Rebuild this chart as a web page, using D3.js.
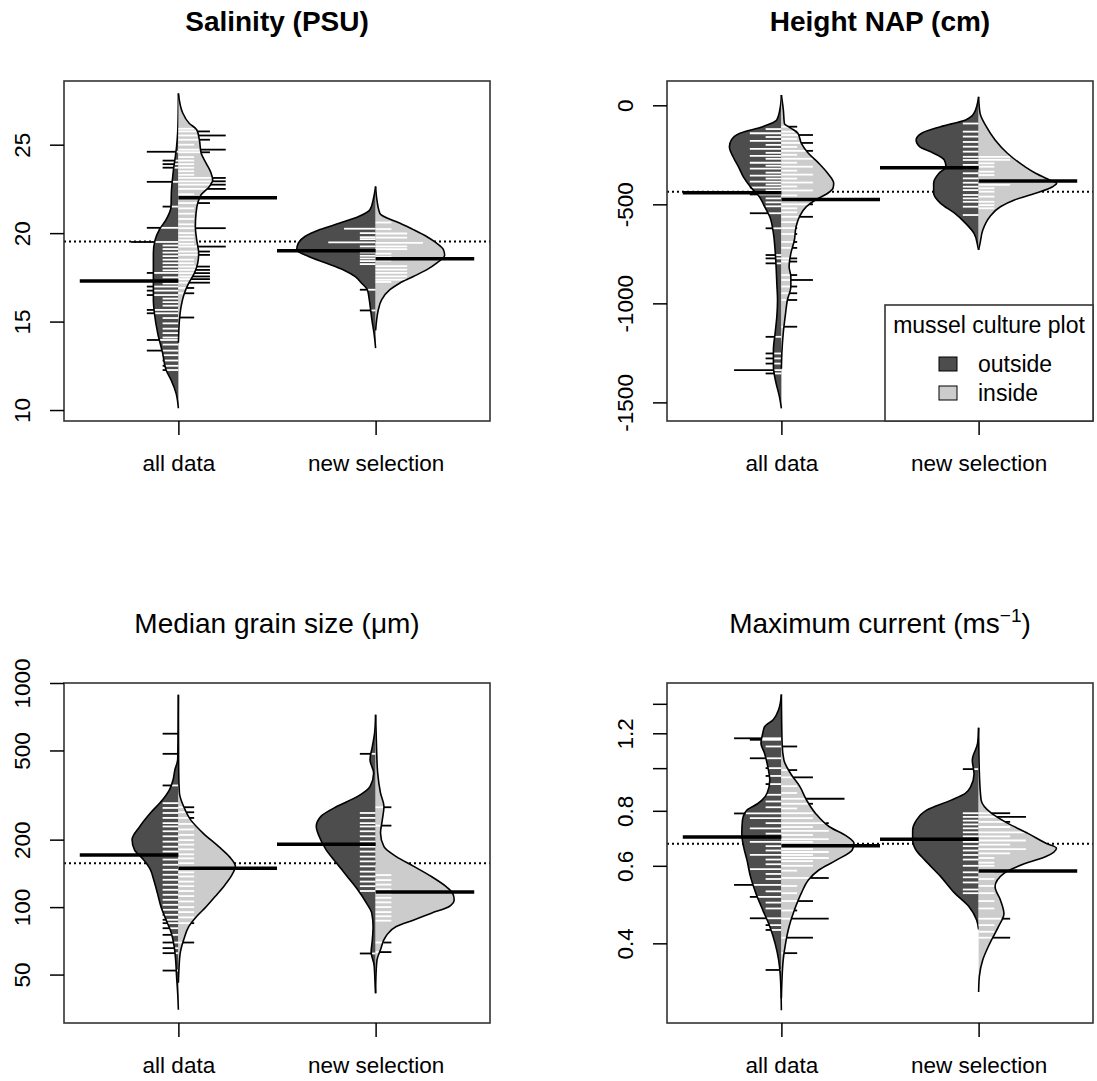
<!DOCTYPE html>
<html>
<head>
<meta charset="utf-8">
<script src="https://cdn.jsdelivr.net/npm/d3@7"></script>
<style>
  body { margin: 0; background: #fff; }
  text { font-family: "Liberation Sans", Arial, sans-serif; fill: #000; }
</style>
</head>
<body>
<svg id="chart" width="1097" height="1081"></svg>
<script>
// ---------- data ----------
const groups = ["all data", "new selection"];
const sideNames = ["outside", "inside"];
const legendTitle = "mussel culture plot";

// density profiles: [value, relative half-width]  (outside = left, inside = right)
// Salinity
const salTicks = [10, 15, 20, 25];
const salOverall = 19.52;
const salMeans = [[17.3, 22.0], [19.0, 18.55]];
const salAllOutDens = [[27.9,0],[26.0,0.006],[24.9,0.023],[23.4,0.067],[22.3,0.089],[21.5,0.093],[20.76,0.156],[20.2,0.241],[19.62,0.295],[18.86,0.317],[17.5,0.317],[16.2,0.317],[15.47,0.304],[14.34,0.262],[13.2,0.199],[12.26,0.156],[11.7,0.093],[10.94,0.029],[10.1,0]];
const salAllInDens = [[27.9,0],[26.79,0.055],[26.2,0.139],[25.85,0.232],[25.28,0.266],[24.53,0.288],[23.96,0.351],[23.4,0.414],[23.0,0.435],[22.64,0.393],[22.17,0.288],[21.7,0.245],[21.13,0.224],[20.38,0.215],[19.62,0.232],[18.86,0.257],[18.3,0.245],[17.74,0.203],[17.17,0.131],[16.6,0.076],[15.85,0.034],[15.1,0.013],[14.3,0.004],[13.8,0]];
const salNewOutDens = [[22.64,0],[22.0,0.025],[21.32,0.072],[20.94,0.215],[20.57,0.452],[20.2,0.706],[19.81,0.896],[19.43,0.98],[19.06,1.0],[18.68,0.849],[18.3,0.621],[17.92,0.406],[17.55,0.262],[17.17,0.177],[16.8,0.105],[16.23,0.08],[15.66,0.063],[15.1,0.047],[14.3,0.019],[13.5,0]];
const salNewInDens = [[22.64,0],[22.0,0.013],[21.1,0.055],[20.57,0.304],[20.2,0.478],[19.81,0.646],[19.43,0.773],[19.06,0.86],[18.75,0.875],[18.3,0.773],[17.92,0.646],[17.55,0.478],[17.17,0.304],[16.8,0.181],[16.23,0.076],[15.66,0.034],[15.1,0.013],[14.5,0]];
// observations: [value, number of tied values]
const salAllOutObs = [[24.6,2],[24.1,1],[23.9,1],[23.7,1],[22.9,2],[21.5,1],[20.3,2],[19.5,3],[19.3,1],[19.1,1],[18.9,1],[18.7,1],[18.5,1],[18.3,1],[18.1,1],[17.9,1],[17.75,2],[17.5,1],[17.3,1],[17.15,1],[16.98,2],[16.75,2],[16.5,2],[16.3,1],[16.1,1],[15.9,1],[15.66,2],[15.47,2],[15.2,1],[14.9,1],[14.6,1],[14.35,1],[14.1,1],[13.96,2],[13.7,1],[13.36,2],[13.1,1],[12.8,1],[12.5,1],[12.26,1]];
const salAllInObs = [[25.9,1],[25.75,2],[25.52,3],[25.28,2],[25.0,1],[24.72,3],[24.57,2],[24.3,1],[24.1,1],[23.9,1],[23.7,1],[23.5,1],[23.3,1],[23.12,3],[22.93,3],[22.74,3],[22.5,3],[22.2,1],[22.0,1],[21.7,2],[21.4,1],[21.1,1],[20.8,1],[20.5,1],[20.28,3],[20.0,1],[19.8,1],[19.6,1],[19.4,1],[19.24,3],[18.96,2],[18.77,2],[18.5,1],[18.3,1],[18.11,2],[17.92,2],[17.74,2],[17.55,2],[17.4,2],[17.2,2],[16.9,1],[16.6,1],[15.23,1]];
const salNewOutObs = [[20.25,2],[20.0,1],[19.77,1],[19.66,1],[19.48,3],[19.25,1],[19.06,1],[18.9,1],[18.72,1],[18.57,1],[18.42,1],[18.25,1],[16.8,1],[15.63,1]];
const salNewInObs = [[20.6,1],[20.23,1],[19.98,2],[19.75,2],[19.45,3],[19.25,2],[19.1,2],[18.84,1],[18.65,1],[18.45,1],[18.13,2],[17.94,2],[17.75,2],[17.56,2],[17.37,2],[17.24,1]];

// Height NAP
const napTicks = [0, -500, -1000, -1500];
const napOverall = -436;
const napMeans = [[-441, -475], [-315, -382]];
const napAllOutDens = [[52,0],[-7,0.013],[-74,0.058],[-108,0.236],[-141,0.525],[-175,0.634],[-209,0.659],[-260,0.613],[-310,0.545],[-361,0.482],[-411,0.393],[-462,0.279],[-512,0.213],[-563,0.147],[-647,0.101],[-731,0.08],[-815,0.067],[-899,0.058],[-983,0.049],[-1068,0.058],[-1152,0.08],[-1236,0.101],[-1320,0.101],[-1404,0.067],[-1471,0.025],[-1530,0]];
const napAllInDens = [[52,0],[-24,0.025],[-91,0.038],[-115,0.12],[-141,0.209],[-192,0.253],[-242,0.342],[-293,0.475],[-343,0.587],[-394,0.663],[-419,0.654],[-444,0.587],[-478,0.431],[-512,0.317],[-563,0.228],[-613,0.186],[-680,0.165],[-748,0.12],[-815,0.098],[-866,0.12],[-916,0.12],[-983,0.076],[-1050,0.053],[-1152,0.023],[-1250,0.006],[-1330,0]];
const napNewOutDens = [[43,0],[-40,0.058],[-74,0.165],[-108,0.482],[-141,0.722],[-175,0.792],[-209,0.748],[-242,0.57],[-276,0.436],[-310,0.413],[-343,0.502],[-394,0.57],[-444,0.57],[-495,0.482],[-545,0.304],[-596,0.165],[-647,0.058],[-714,0.009],[-730,0]];
const napNewInDens = [[43,0],[-40,0.018],[-108,0.098],[-175,0.209],[-242,0.365],[-310,0.587],[-343,0.722],[-377,0.9],[-394,0.989],[-411,0.938],[-444,0.722],[-478,0.454],[-512,0.276],[-563,0.142],[-630,0.053],[-697,0.018],[-730,0]];
const napAllOutObs = [[-120,1],[-141,2],[-160,1],[-180,2],[-200,1],[-220,2],[-240,1],[-255,2],[-270,1],[-290,2],[-305,1],[-320,2],[-340,1],[-355,2],[-370,1],[-385,2],[-400,1],[-415,2],[-430,1],[-450,2],[-470,1],[-490,1],[-510,1],[-545,2],[-621,1],[-756,1],[-773,1],[-798,1],[-1169,1],[-1253,1],[-1278,1],[-1304,1],[-1337,3],[-1354,1]];
const napAllInObs = [[-108,1],[-133,1],[-150,2],[-170,1],[-190,2],[-210,1],[-230,2],[-250,1],[-270,2],[-290,1],[-310,2],[-330,1],[-350,2],[-370,1],[-390,2],[-410,1],[-430,2],[-455,1],[-480,1],[-500,2],[-520,1],[-540,1],[-563,2],[-590,1],[-620,1],[-650,1],[-690,1],[-720,1],[-773,1],[-789,1],[-857,1],[-882,2],[-915,1],[-949,1],[-983,1],[-1118,1]];
const napNewOutObs = [[-92,1],[-133,1],[-158,1],[-185,1],[-209,1],[-234,1],[-260,1],[-276,1],[-301,1],[-318,1],[-343,1],[-369,1],[-391,1],[-411,1],[-428,1],[-453,1],[-470,1],[-487,1],[-512,1],[-554,1]];
const napNewInObs = [[-260,2],[-276,2],[-293,1],[-310,1],[-335,1],[-352,1],[-377,1],[-402,2],[-419,1],[-436,1],[-461,1],[-487,1],[-504,1],[-520,1]];

// Median grain size
const grainTicks = [50, 100, 200, 500, 1000];
const grainOverall = 157;
const grainMeans = [[171, 149], [191, 116.7]];
const grainAllOutDens = [[887,0],[600,0.004],[455,0.009],[410,0.044],[370,0.067],[334,0.112],[301,0.2],[263,0.355],[229,0.489],[200,0.587],[180,0.556],[163,0.444],[147,0.355],[132,0.312],[115.5,0.266],[100.6,0.222],[87.7,0.156],[76.5,0.089],[66.7,0.053],[58.2,0.035],[49,0.023],[41.3,0.009],[34.8,0]];
const grainAllInDens = [[887,0],[400,0.004],[323,0.013],[281,0.067],[245,0.156],[214,0.312],[186,0.512],[168,0.646],[152,0.722],[137,0.667],[124,0.578],[111.5,0.466],[100.6,0.355],[90.8,0.231],[82,0.133],[71.5,0.067],[62.3,0.023],[52,0.006],[46,0]];
const grainNewOutDens = [[722,0],[598,0.013],[521,0.041],[455,0.071],[396,0.025],[345,0.071],[312,0.227],[281,0.494],[254,0.693],[229,0.752],[207,0.716],[180,0.627],[157,0.494],[137,0.36],[119.5,0.227],[104,0.114],[94,0.049],[82,0.032],[70,0.044],[63,0.057],[55,0.019],[45,0.006],[41.3,0]];
const grainNewInDens = [[722,0],[500,0.013],[400,0.025],[323,0.062],[281,0.106],[245,0.085],[214,0.062],[186,0.106],[168,0.262],[152,0.484],[137,0.707],[124,0.887],[115.5,0.976],[107.8,0.996],[100.6,0.934],[94,0.707],[87.7,0.484],[82,0.262],[74,0.129],[64.5,0.062],[58.2,0.018],[50,0.005],[41.3,0]];
const grainAllOutObs = [[594,1],[483,1],[349,1],[291,1],[277,1],[263,1],[250,1],[237,1],[229,1],[218,1],[207,1],[196,1],[186,1],[177,1],[171,1],[163,1],[154.5,1],[146.7,1],[139.4,1],[132.4,1],[125.8,1],[119.5,1],[113.5,1],[107.8,1],[102.4,1],[97.3,1],[92.4,1],[87.8,1],[84.8,1],[80.5,1],[75.2,1],[69.5,1],[65.6,1],[62.3,1],[52.1,1]];
const grainAllInObs = [[279,1],[265,1],[250,1],[235,1],[222,1],[210,1],[199,1],[190,1],[181,1],[172,1],[165,1],[157,1],[150,1],[143,1],[137,1],[130,1],[124,1],[118,1],[112,1],[106,1],[100,1],[95,1],[90,1],[84.8,1],[69.5,1]];
const grainNewOutObs = [[483,1],[263,1],[250,1],[237,1],[229,1],[218,1],[207,1],[196,1],[186,1],[177,1],[168,1],[160,1],[152,1],[144,1],[137,1],[130,1],[124,1],[118,1],[62.1,1]];
const grainNewInObs = [[279,1],[231,1],[139,1],[132,1],[126,1],[120,1],[115,1],[110,1],[105,1],[100,1],[95,1],[91,1],[87,1],[69.5,1],[63,1]];

// Maximum current
const currTicks = [0.4, 0.6, 0.8, 1.0, 1.2, 1.4];
const currLabels = ["0.4", "0.6", "0.8", "", "1.2", ""];
const currOverall = 0.673;
const currMeans = [[0.698, 0.666], [0.689, 0.584]];
const currAllOutDens = [[1.47,0],[1.358,0.035],[1.29,0.101],[1.242,0.213],[1.2,0.236],[1.138,0.259],[1.08,0.213],[1.0,0.169],[0.94,0.147],[0.876,0.183],[0.83,0.303],[0.803,0.436],[0.76,0.494],[0.71,0.502],[0.664,0.48],[0.618,0.436],[0.567,0.392],[0.52,0.324],[0.476,0.236],[0.437,0.147],[0.40,0.08],[0.367,0.035],[0.336,0.013],[0.282,0]];
const currAllInDens = [[1.47,0],[1.138,0.009],[1.043,0.032],[0.97,0.12],[0.91,0.231],[0.845,0.321],[0.79,0.431],[0.736,0.608],[0.70,0.831],[0.675,0.92],[0.652,0.899],[0.618,0.697],[0.587,0.475],[0.557,0.342],[0.52,0.253],[0.476,0.165],[0.437,0.098],[0.40,0.053],[0.367,0.023],[0.336,0.009],[0.30,0]];
const currNewOutDens = [[1.235,0],[1.138,0.013],[1.043,0.08],[0.97,0.058],[0.907,0.101],[0.876,0.169],[0.846,0.347],[0.803,0.659],[0.76,0.792],[0.722,0.836],[0.687,0.836],[0.651,0.792],[0.618,0.681],[0.567,0.48],[0.52,0.303],[0.485,0.124],[0.452,0.025],[0.43,0]];
const currNewInDens = [[1.235,0],[0.98,0.009],[0.846,0.032],[0.789,0.165],[0.75,0.365],[0.71,0.631],[0.675,0.854],[0.658,0.987],[0.63,0.854],[0.607,0.587],[0.577,0.321],[0.538,0.209],[0.502,0.276],[0.467,0.321],[0.437,0.253],[0.40,0.142],[0.367,0.053],[0.336,0.009],[0.31,0]];
const currAllOutObs = [[1.169,3],[1.16,2],[1.12,1],[1.053,2],[1.0,1],[0.96,1],[0.92,1],[0.87,1],[0.84,1],[0.815,1],[0.789,3],[0.77,2],[0.75,1],[0.73,2],[0.71,1],[0.698,1],[0.68,2],[0.665,1],[0.65,1],[0.635,2],[0.62,1],[0.605,1],[0.59,2],[0.575,1],[0.56,1],[0.543,3],[0.525,1],[0.51,2],[0.495,1],[0.48,1],[0.456,2],[0.44,1],[0.429,1],[0.348,1]];
const currAllInObs = [[1.12,1],[0.99,1],[0.953,2],[0.91,1],[0.878,1],[0.852,4],[0.83,2],[0.81,1],[0.79,2],[0.77,2],[0.75,3],[0.735,2],[0.72,3],[0.705,2],[0.69,3],[0.68,2],[0.666,3],[0.655,2],[0.645,3],[0.635,2],[0.625,3],[0.615,2],[0.6,2],[0.585,1],[0.563,3],[0.54,1],[0.52,1],[0.499,2],[0.475,1],[0.455,3],[0.412,2],[0.38,1]];
const currNewOutObs = [[0.995,1],[0.79,1],[0.775,1],[0.76,1],[0.745,1],[0.73,1],[0.715,1],[0.70,1],[0.68,1],[0.665,1],[0.65,1],[0.635,1],[0.62,1],[0.6,1],[0.58,1],[0.565,1],[0.55,1],[0.53,1],[0.52,1]];
const currNewInObs = [[0.79,2],[0.775,3],[0.755,2],[0.735,2],[0.715,3],[0.70,2],[0.685,3],[0.67,2],[0.655,3],[0.64,2],[0.625,1],[0.61,1],[0.6,1],[0.58,1],[0.56,1],[0.54,1],[0.52,1],[0.499,1],[0.48,1],[0.455,2],[0.44,1],[0.425,1],[0.412,2]];

// ---------- layout / style ----------
const FONT = '"Liberation Sans", Arial, sans-serif';
const sideFill = ["#4d4d4d", "#cccccc"];
const maxHalf = 0.4;   // half-width of widest bean, x units
const ll = 0.08;       // beanline length per tied value, x units
const meanLen = 0.5;   // mean line length, x units

const panels = [
  { title: ["Salinity (PSU)"], bold: true, box: [64, 81, 490, 421], log: false, domain: [9.38, 28.6],
    ticks: salTicks, labels: salTicks.map(String), overall: salOverall, means: salMeans,
    dens: [[salAllOutDens, salAllInDens], [salNewOutDens, salNewInDens]],
    obs: [[salAllOutObs, salAllInObs], [salNewOutObs, salNewInObs]] },
  { title: ["Height NAP (cm)"], bold: true, box: [667, 81, 1093, 421], log: false, domain: [-1594, 122.7],
    ticks: napTicks, labels: napTicks.map(String), overall: napOverall, means: napMeans,
    dens: [[napAllOutDens, napAllInDens], [napNewOutDens, napNewInDens]],
    obs: [[napAllOutObs, napAllInObs], [napNewOutObs, napNewInObs]], legend: true },
  { title: ["Median grain size (\u03bcm)"], bold: false, box: [64, 683, 490, 1023], log: true, domain: [30.4, 1000],
    ticks: grainTicks, labels: grainTicks.map(String), overall: grainOverall, means: grainMeans,
    dens: [[grainAllOutDens, grainAllInDens], [grainNewOutDens, grainNewInDens]],
    obs: [[grainAllOutObs, grainAllInObs], [grainNewOutObs, grainNewInObs]] },
  { title: ["Maximum current (ms", "\u22121", ")"], bold: false, box: [667, 683, 1093, 1023], log: true, domain: [0.2637, 1.561],
    ticks: currTicks, labels: currLabels, overall: currOverall, means: currMeans,
    dens: [[currAllOutDens, currAllInDens], [currNewOutDens, currNewInDens]],
    obs: [[currAllOutObs, currAllInObs], [currNewOutObs, currNewInObs]] }
];

const svg = d3.select("#chart");

function drawPanel(p) {
  const [bx0, by0, bx1, by1] = p.box;
  const x = d3.scaleLinear().domain([0.42, 2.58]).range([bx0, bx1]);
  const y = (p.log ? d3.scaleLog() : d3.scaleLinear()).domain(p.domain).range([by1, by0]);
  const unit = x(1) - x(0);
  const g = svg.append("g");

  // overall mean (dotted)
  g.append("line")
    .attr("x1", bx0).attr("x2", bx1)
    .attr("y1", y(p.overall)).attr("y2", y(p.overall))
    .attr("stroke", "#000").attr("stroke-width", 2).attr("stroke-dasharray", "2,3");

  const edgeLine = d3.line().curve(d3.curveMonotoneY);

  groups.forEach((grp, gi) => {
    const cx = x(gi + 1);
    [0, 1].forEach(si => {
      const dir = si === 0 ? -1 : 1;
      const pts = p.dens[gi][si]
        .map(([v, d]) => [cx + dir * d * maxHalf * unit, y(v)])
        .sort((a, b) => a[1] - b[1]);
      const edge = edgeLine(pts);
      g.append("path")
        .attr("d", edge + `L${cx},${pts[pts.length - 1][1]}L${cx},${pts[0][1]}Z`)
        .attr("fill", sideFill[si]);

      // half-width at pixel y (linear between profile points)
      const halfW = py => {
        if (py <= pts[0][1] || py >= pts[pts.length - 1][1]) return 0;
        const i = d3.bisector(d => d[1]).left(pts, py);
        const a = pts[i - 1], b = pts[i];
        const t = (py - a[1]) / (b[1] - a[1]);
        return Math.abs((a[0] + t * (b[0] - a[0])) - cx);
      };

      p.obs[gi][si].forEach(([v, n]) => {
        const py = y(v);
        const len = n * ll * unit;
        const w = Math.min(len, halfW(py));
        if (w > 0) {
          g.append("line").attr("x1", cx).attr("x2", cx + dir * w)
            .attr("y1", py).attr("y2", py)
            .attr("stroke", "#fff").attr("stroke-width", 1.8);
        }
        if (len > w) {
          g.append("line").attr("x1", cx + dir * w).attr("x2", cx + dir * len)
            .attr("y1", py).attr("y2", py)
            .attr("stroke", "#000").attr("stroke-width", 1.8);
        }
      });

      g.append("path").attr("d", edge)
        .attr("fill", "none").attr("stroke", "#000").attr("stroke-width", 1.6);
    });
  });

  // group/side means
  groups.forEach((grp, gi) => {
    const cx = x(gi + 1);
    [0, 1].forEach(si => {
      const dir = si === 0 ? -1 : 1;
      g.append("line")
        .attr("x1", cx).attr("x2", cx + dir * meanLen * unit)
        .attr("y1", y(p.means[gi][si])).attr("y2", y(p.means[gi][si]))
        .attr("stroke", "#000").attr("stroke-width", 3.5);
    });
  });

  // box
  g.append("rect")
    .attr("x", bx0).attr("y", by0).attr("width", bx1 - bx0).attr("height", by1 - by0)
    .attr("fill", "none").attr("stroke", "#333").attr("stroke-width", 1.6);

  // y axis
  const ya = g.append("g").attr("transform", `translate(${bx0},0)`)
    .call(d3.axisLeft(y).tickValues(p.ticks).tickFormat((d, i) => p.labels[i]).tickSize(14).tickSizeOuter(0));
  ya.select(".domain").remove();
  ya.selectAll(".tick line").attr("stroke", "#000").attr("stroke-width", 1.5);
  ya.selectAll("text")
    .attr("transform", "rotate(-90)").attr("x", 0).attr("y", -34).attr("dy", 0)
    .attr("text-anchor", "middle").attr("fill", "#000")
    .style("font-size", "22.5px").style("font-family", FONT);

  // x axis
  const xa = g.append("g").attr("transform", `translate(0,${by1})`)
    .call(d3.axisBottom(x).tickValues([1, 2]).tickFormat(d => groups[d - 1]).tickSize(14).tickSizeOuter(0));
  xa.select(".domain").remove();
  xa.selectAll(".tick line").attr("stroke", "#000").attr("stroke-width", 1.5);
  xa.selectAll("text").attr("y", 50).attr("dy", 0).attr("fill", "#000")
    .style("font-size", "22.5px").style("font-family", FONT);

  // title
  const t = g.append("text")
    .attr("x", (bx0 + bx1) / 2).attr("y", by0 - 50)
    .attr("text-anchor", "middle")
    .style("font-size", "28px").style("font-weight", p.bold ? "bold" : "normal");
  t.append("tspan").text(p.title[0]);
  if (p.title.length > 1) {
    t.append("tspan").attr("dy", -11).style("font-size", "19px").text(p.title[1]);
    t.append("tspan").attr("dy", 11).text(p.title[2]);
  }

  // legend
  if (p.legend) {
    const lg = g.append("g");
    lg.append("rect").attr("x", 885).attr("y", 305).attr("width", bx1 - 885).attr("height", by1 - 305)
      .attr("fill", "#fff").attr("stroke", "#333").attr("stroke-width", 1.6);
    lg.append("text").attr("x", (885 + bx1) / 2).attr("y", 333).attr("text-anchor", "middle")
      .style("font-size", "23px").text(legendTitle);
    sideNames.forEach((s, i) => {
      lg.append("rect").attr("x", 939).attr("y", 357 + i * 29).attr("width", 18).attr("height", 14)
        .attr("fill", sideFill[i]).attr("stroke", "#000").attr("stroke-width", 1);
      lg.append("text").attr("x", 978).attr("y", 372 + i * 29)
        .style("font-size", "23px").text(s);
    });
  }
}

panels.forEach(drawPanel);
</script>
</body>
</html>
